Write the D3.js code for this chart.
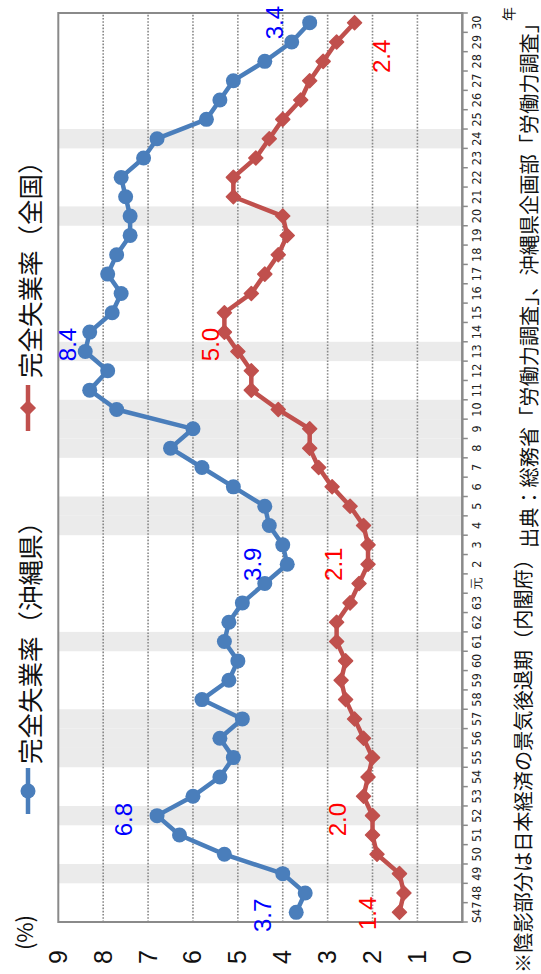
<!DOCTYPE html>
<html><head><meta charset="utf-8">
<script src="https://cdn.jsdelivr.net/npm/d3@7/dist/d3.min.js"></script>
<style>body{margin:0;background:#fff}svg{display:block}</style>
</head><body><svg id="c" width="541" height="974"></svg>
<script>
// ---- data ----
const categories = ["S47","48","49","50","51","52","53","54","55","56","57","58","59","60","61","62","63",
  "元","2","3","4","5","6","7","8","9","10","11","12","13","14","15","16","17","18","19","20","21","22","23","24","25","26","27","28","29","30"];
const okinawa = [3.7,3.5,4.0,5.3,6.3,6.8,6.0,5.4,5.1,5.4,4.9,5.8,5.2,5.0,5.3,5.2,4.9,
  4.4,3.9,4.0,4.3,4.4,5.1,5.8,6.5,6.0,7.7,8.3,7.9,8.4,8.3,7.8,7.6,7.9,7.7,7.4,7.4,7.5,7.6,7.1,6.8,5.7,5.4,5.1,4.4,3.8,3.4];
const national = [1.4,1.3,1.4,1.9,2.0,2.0,2.2,2.1,2.0,2.2,2.4,2.6,2.7,2.6,2.8,2.8,2.5,
  2.3,2.1,2.1,2.2,2.5,2.9,3.2,3.4,3.4,4.1,4.7,4.7,5.0,5.3,5.3,4.7,4.4,4.1,3.9,4.0,5.1,5.1,4.6,4.3,4.0,3.6,3.4,3.1,2.8,2.4];
const valueTicks = [0,1,2,3,4,5,6,7,8,9];
const gridValues = [1,2,3,4,5,6,7,8];
const recessionCats = ["49","52","55","56","57","61","4","5","8","9","10","13","20","24"];
const okinawaLabelCats = ["S47","52","2","13","30"];
const okinawaLabelTexts = ["3.7","6.8","3.9","8.4","3.4"];
const nationalLabelCats = ["S47","52","2","13","28"];
const nationalLabelTexts = ["1.4","2.0","2.1","5.0","2.4"];
const seriesNames = ["完全失業率（沖縄県）","完全失業率（全国）"];
const unitLabel = "(%)";
const yearLabel = "年";
const note1 = "※陰影部分は日本経済の景気後退期（内閣府）";
const note2 = "出典：総務省「労働力調査」、沖縄県企画部「労働力調査」";

// ---- style ----
const BLUE = "#4A7EBB", RED = "#C0504D";
const okLabelOff = [[-3,-34],[-4,-34],[0,-35],[7,-18],[0,-35]];
const naLabelOff = [[-1,-32],[-4,-35],[0,-35],[7,-27],[5,58]];
const JP = "'Noto Sans CJK JP','Noto Sans',sans-serif";
const NUM = "'Liberation Sans',Arial,sans-serif";

// Chart is drawn in an unrotated frame (974 x 541) then rotated -90deg.
const svg = d3.select("#c");
svg.append("rect").attr("width",541).attr("height",974).attr("fill","#fff");
const g = svg.append("g").attr("transform","translate(0,974) rotate(-90)");

const L = 52, R = 961, T = 58.3, B = 462.3;
const x = d3.scaleBand().domain(categories).range([L, R]).padding(0);
const y = d3.scaleLinear().domain([0, 9]).range([B, T]);
const bw = x.bandwidth();
const cx = c => x(c) + bw/2;

// recession shading
g.append("g").selectAll("rect").data(recessionCats).join("rect")
  .attr("x", d => x(d)).attr("width", bw).attr("y", T).attr("height", B - T)
  .attr("fill", "#EBEBEB");

// gridlines
g.append("g").selectAll("line").data(gridValues).join("line")
  .attr("x1", L).attr("x2", R).attr("y1", d => y(d)).attr("y2", d => y(d))
  .attr("stroke", "#888").attr("stroke-width", 1.6).attr("stroke-dasharray", "1.6,1.6");

// plot border
g.append("rect").attr("x", L).attr("y", T).attr("width", R - L).attr("height", B - T)
  .attr("fill", "none").attr("stroke", "#8A8A8A").attr("stroke-width", 2);

// category axis (bottom in unrotated frame)
const xAxis = g.append("g").attr("transform", `translate(0,${B})`)
  .call(d3.axisBottom(x).tickSize(0).tickPadding(10));
xAxis.select(".domain").remove();
xAxis.selectAll("text").attr("font-size", 12.5)
  .attr("font-family", "'DejaVu Sans Condensed','DejaVu Sans',sans-serif")
  .attr("font-stretch", "condensed").attr("fill", "#222");
// boundary ticks
const bounds = d3.range(categories.length + 1).map(i => L + i * bw);
g.append("g").selectAll("line").data(bounds).join("line")
  .attr("x1", d => d).attr("x2", d => d).attr("y1", B).attr("y2", B + 5.5)
  .attr("stroke", "#8A8A8A").attr("stroke-width", 1.5);
g.append("line").attr("x1", L).attr("x2", R).attr("y1", B).attr("y2", B)
  .attr("stroke", "#8A8A8A").attr("stroke-width", 2.2);

// value axis labels
const yAxis = g.append("g").attr("transform", `translate(${L},0)`)
  .call(d3.axisLeft(y).tickValues(valueTicks).tickSize(0).tickPadding(28).tickFormat(d3.format("d")));
yAxis.select(".domain").remove();
yAxis.selectAll("text").attr("font-size", 25).attr("font-family", NUM).attr("fill", "#111");

// lines
const line = d3.line().x((d, i) => cx(categories[i])).y(d => y(d));
g.append("path").datum(okinawa).attr("d", line).attr("fill", "none")
  .attr("stroke", BLUE).attr("stroke-width", 4.5).attr("stroke-linejoin", "round");
g.append("path").datum(national).attr("d", line).attr("fill", "none")
  .attr("stroke", RED).attr("stroke-width", 4.5).attr("stroke-linejoin", "round");

// markers
g.append("g").selectAll("circle").data(okinawa).join("circle")
  .attr("cx", (d, i) => cx(categories[i])).attr("cy", d => y(d)).attr("r", 7.5).attr("fill", BLUE);
const dia = s => `M0,${-s}L${s},0L0,${s}L${-s},0Z`;
g.append("g").selectAll("path").data(national).join("path")
  .attr("d", dia(7)).attr("transform", (d, i) => `translate(${cx(categories[i])},${y(d)})`)
  .attr("fill", RED).attr("stroke", RED).attr("stroke-width", 1.5).attr("stroke-linejoin", "round");

// data labels
function labels(cats, texts, series, offs, color) {
  g.append("g").selectAll("text").data(cats).join("text")
    .attr("x", (c, i) => cx(c) + offs[i][0])
    .attr("y", (c, i) => y(series[categories.indexOf(c)]) + offs[i][1])
    .attr("text-anchor", "middle").attr("dominant-baseline", "central")
    .attr("font-family", NUM).attr("font-size", 24).attr("fill", color)
    .text((c, i) => texts[i]);
}
labels(okinawaLabelCats, okinawaLabelTexts, okinawa, okLabelOff, "#0000FF");
labels(nationalLabelCats, nationalLabelTexts, national, naLabelOff, "#FF0000");

// legend
const legY = 28;
const leg = [{name: seriesNames[0], c: 183, t: 210, color: BLUE, m: "circle"},
             {name: seriesNames[1], c: 566, t: 596, color: RED, m: "diamond"}];
leg.forEach(l => {
  g.append("line").attr("x1", l.c - 23).attr("x2", l.c + 23).attr("y1", legY).attr("y2", legY)
    .attr("stroke", l.color).attr("stroke-width", 4.5);
  if (l.m === "circle") g.append("circle").attr("cx", l.c).attr("cy", legY).attr("r", 7.5).attr("fill", l.color);
  else g.append("path").attr("d", dia(7)).attr("transform", `translate(${l.c},${legY})`).attr("fill", l.color)
    .attr("stroke", l.color).attr("stroke-width", 1.5);
  g.append("text").attr("x", l.t).attr("y", legY).attr("dominant-baseline", "central")
    .attr("font-family", JP).attr("font-size", 25.5).attr("fill", "#111").text(l.name);
});

// unit, year, notes
g.append("text").attr("x", 41.5).attr("y", 22.5).attr("text-anchor", "middle").attr("dominant-baseline", "central")
  .attr("font-family", JP).attr("font-size", 22).attr("fill", "#111").text(unitLabel);
g.append("text").attr("x", 960).attr("y", 508).attr("text-anchor", "middle").attr("dominant-baseline", "central")
  .attr("font-family", JP).attr("font-size", 14).attr("fill", "#111").text(yearLabel);
g.append("text").attr("x", 1).attr("y", 522).attr("dominant-baseline", "central")
  .attr("font-family", JP).attr("font-size", 20.2).attr("fill", "#111").text(note1);
g.append("text").attr("x", 426).attr("y", 528).attr("dominant-baseline", "central")
  .attr("font-family", JP).attr("font-size", 20.2).attr("fill", "#111").text(note2);
</script></body></html>
